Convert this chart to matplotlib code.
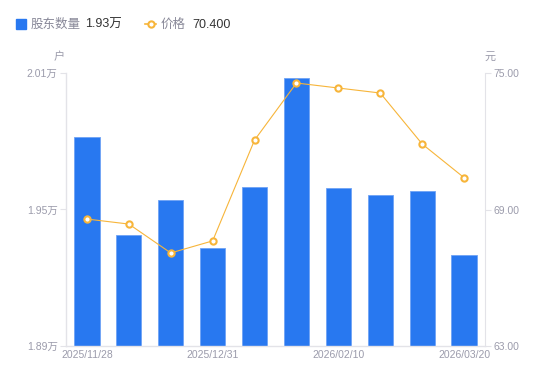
import matplotlib
matplotlib.use("Agg")
import matplotlib.pyplot as plt
from matplotlib.lines import Line2D
from matplotlib.patches import Rectangle

plt.rcParams['font.family'] = ['Liberation Sans', 'Noto Sans CJK SC', 'DejaVu Sans']

dates = ["2025/11/28", "2025/12/10", "2025/12/19", "2025/12/31", "2026/01/09",
         "2026/01/20", "2026/02/10", "2026/02/27", "2026/03/10", "2026/03/20"]
holders = [1.982, 1.939, 1.954, 1.933, 1.960, 2.008, 1.9595, 1.9565, 1.958, 1.930]
price = [68.58, 68.36, 67.09, 67.62, 72.05, 74.56, 74.34, 74.12, 71.88, 70.40]
left_ticks = [1.89, 1.95, 2.01]
right_ticks = [63.0, 69.0, 75.0]
shown_dates = [0, 3, 6, 9]

BLUE = "#2878f0"
ORANGE = "#f7b53a"
GRAY = "#9b9bab"
AXIS = "#e3e3e8"

fig = plt.figure(figsize=(5.5, 3.81), dpi=100)
ax = fig.add_axes([66/550, 35/381, 419/550, 273/381])
x = list(range(len(dates)))
ax.bar(x, [h - left_ticks[0] for h in holders], bottom=left_ticks[0], width=0.6,
       color=BLUE, edgecolor="#6ea2f5", linewidth=0.6, zorder=2)
ax.set_xlim(-0.5, len(dates) - 0.5)
ax.set_ylim(left_ticks[0], left_ticks[-1])
ax.set_yticks(left_ticks)
ax.set_yticklabels([f"{t:.2f}万" for t in left_ticks])
ax.set_xticks([x[i] for i in shown_dates])
ax.set_xticklabels([dates[i] for i in shown_dates])

for s in ["top", "right"]:
    ax.spines[s].set_visible(False)
for s in ["left", "bottom"]:
    ax.spines[s].set_color(AXIS)
    ax.spines[s].set_linewidth(1)
ax.tick_params(axis="y", colors=AXIS, labelcolor=GRAY, labelsize=7.5, length=4, width=0.8, pad=2)
ax.tick_params(axis="x", length=0, labelcolor=GRAY, labelsize=7.5, pad=3)

ax2 = ax.twinx()
ax2.plot(x, price, color=ORANGE, linewidth=0.8, marker="o", markersize=4.5,
         markerfacecolor="white", markeredgecolor=ORANGE, markeredgewidth=1.5, zorder=3)
ax2.set_ylim(right_ticks[0], right_ticks[-1])
ax2.set_yticks(right_ticks)
ax2.set_yticklabels([f"{t:.2f}" for t in right_ticks])
for s in ["top", "left", "bottom"]:
    ax2.spines[s].set_visible(False)
ax2.spines["right"].set_color(AXIS)
ax2.tick_params(axis="y", colors=AXIS, labelcolor=GRAY, labelsize=7.5, length=4, width=0.8, pad=2)

fig.text(59/550, 1 - 57/381, "户", color=GRAY, fontsize=8, ha="center", va="center")
fig.text(490/550, 1 - 57/381, "元", color=GRAY, fontsize=8, ha="center", va="center")

# legend
ly = 1 - 25/381
fig.patches.append(Rectangle((16/550, 1 - 29/381), 10/550, 10/381, transform=fig.transFigure,
                             color=BLUE, figure=fig))
fig.text(31/550, ly, "股东数量", color="#888898", fontsize=9, va="center")
fig.text(85/550, ly, f"{holders[-1]:.2f}万", color="#333333", fontsize=9, va="center")
fig.lines.append(Line2D([145/550, 156/550], [1 - 24/381] * 2, transform=fig.transFigure,
                        color=ORANGE, linewidth=1.2, figure=fig))
fig.lines.append(Line2D([150.5/550], [1 - 24/381], transform=fig.transFigure, color=ORANGE,
                        marker="o", markersize=4.5, markerfacecolor="white",
                        markeredgewidth=1.5, linestyle="none", figure=fig))
fig.text(161/550, ly, "价格", color="#888898", fontsize=9, va="center")
fig.text(192/550, ly, f"{price[-1]:.3f}", color="#333333", fontsize=9, va="center")

fig.savefig("out.png", dpi=100)
